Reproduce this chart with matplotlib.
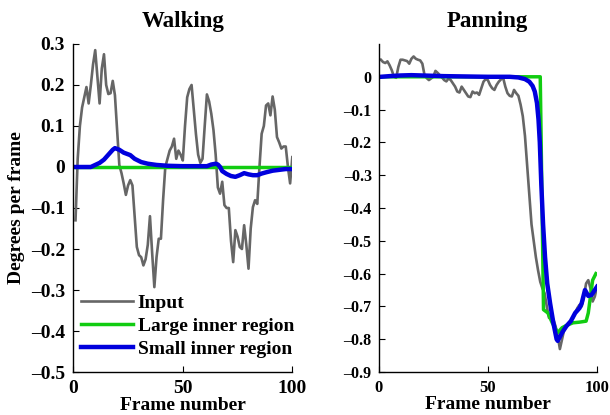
import matplotlib
matplotlib.use("Agg")
import matplotlib.pyplot as plt

# ---------------- Walking data ----------------
walk_in_x = list(range(1, 101))
walk_in_y = [-0.13, 0.02, 0.10, 0.145, 0.17, 0.195, 0.155, 0.20, 0.25, 0.285,
             0.22, 0.155, 0.24, 0.275, 0.20, 0.178, 0.18, 0.21, 0.175, 0.09,
             0.005, -0.015, -0.04, -0.068, -0.045, -0.032, -0.045, -0.12, -0.195, -0.215,
             -0.22, -0.24, -0.225, -0.19, -0.12, -0.21, -0.293, -0.22, -0.175, -0.175,
             -0.08, 0.0, 0.02, 0.04, 0.05, 0.069, 0.02, 0.04, 0.03, 0.016,
             0.10, 0.17, 0.19, 0.20, 0.14, 0.08, 0.03, 0.01, 0.02, 0.10,
             0.177, 0.16, 0.13, 0.09, 0.03, -0.05, -0.065, -0.036, -0.093, -0.10,
             -0.10, -0.18, -0.232, -0.154, -0.17, -0.195, -0.20, -0.142, -0.19, -0.248,
             -0.15, -0.098, -0.081, -0.09, 0.0, 0.081, 0.10, 0.15, 0.155, 0.126,
             0.172, 0.14, 0.073, 0.06, 0.045, 0.05, 0.05, 0.0, -0.04, 0.024]

walk_large_x = [1, 100]
walk_large_y = [0.0, 0.0]

walk_small_x = [1, 8, 10, 12, 14, 16, 18, 19, 21, 23, 26, 28, 31, 34, 38, 43, 50,
                58, 61, 63, 65, 66, 67, 68, 70, 72, 74, 76, 78, 80, 82, 84, 86,
                88, 91, 94, 97, 100]
walk_small_y = [0.0, 0.0, 0.005, 0.01, 0.018, 0.03, 0.042, 0.046, 0.042, 0.035,
                0.029, 0.02, 0.012, 0.008, 0.005, 0.003, 0.002, 0.002, 0.002, 0.006,
                0.008, 0.006, 0.0, -0.01, -0.017, -0.022, -0.024, -0.02, -0.015, -0.018,
                -0.02, -0.02, -0.016, -0.013, -0.009, -0.007, -0.005, -0.005]

# ---------------- Panning data ----------------
pan_in_x = list(range(1, 101))
pan_in_y = [0.052, 0.045, 0.042, 0.047, 0.035, 0.02, 0.0, -0.003, 0.03, 0.052,
            0.052, 0.05, 0.048, 0.04, 0.055, 0.062, 0.055, 0.052, 0.05, 0.04,
            0.005, -0.004, -0.01, -0.005, 0.0, 0.018, 0.012, 0.005, -0.002, -0.01,
            -0.014, -0.005, -0.01, -0.02, -0.03, -0.045, -0.048, -0.03, -0.04, -0.05,
            -0.06, -0.062, -0.045, -0.05, -0.048, -0.055, -0.035, -0.015, -0.007, -0.01,
            -0.025, -0.035, -0.04, -0.025, -0.015, -0.008, -0.003, -0.03, -0.05, -0.058,
            -0.06, -0.04, -0.05, -0.058, -0.085, -0.12, -0.18, -0.27, -0.36, -0.45,
            -0.50, -0.55, -0.59, -0.625, -0.645, -0.66, -0.70, -0.735, -0.735, -0.74,
            -0.76, -0.79, -0.83, -0.80, -0.77, -0.76, -0.755, -0.745, -0.735, -0.72,
            -0.705, -0.695, -0.70, -0.67, -0.63, -0.62, -0.645, -0.685, -0.67, -0.64]

pan_large_x = [1, 74, 75.5, 77.5, 79.5, 82, 84, 86, 89, 92, 95, 96, 98, 99.5]
pan_large_y = [0.0, 0.0, -0.71, -0.72, -0.75, -0.78, -0.765, -0.758, -0.75, -0.748,
               -0.745, -0.72, -0.62, -0.6]

pan_small_x = [1, 5, 10, 15, 20, 30, 40, 50, 60, 64, 67, 69, 70.5, 71.5, 72.5, 73.2,
               73.8, 74.5, 75.3, 76.2, 77.2, 78.5, 80, 81.5, 82, 84, 86, 88, 90, 92,
               93, 94.5, 96, 97.5, 99, 100]
pan_small_y = [0.0, 0.002, 0.004, 0.005, 0.004, 0.002, 0.001, 0.0, 0.0, -0.002,
               -0.007, -0.015, -0.028, -0.045, -0.08, -0.13, -0.2, -0.33, -0.45, -0.55,
               -0.63, -0.69, -0.75, -0.80, -0.805, -0.78, -0.76, -0.745, -0.72, -0.705,
               -0.69, -0.65, -0.668, -0.665, -0.65, -0.64]

titles = ["Walking", "Panning"]
labels = ["Input", "Large inner region", "Small inner region"]
walk_yticks = [0.3, 0.2, 0.1, 0, -0.1, -0.2, -0.3, -0.4, -0.5]
pan_yticks = [0, -0.1, -0.2, -0.3, -0.4, -0.5, -0.6, -0.7, -0.8, -0.9]
xticks = [0, 50, 100]

GREY = "#666666"
GREEN = "#11cc11"
BLUE = "#0000dd"

plt.rcParams["font.family"] = ["Liberation Serif", "DejaVu Serif"]
plt.rcParams["font.weight"] = "bold"
plt.rcParams["axes.unicode_minus"] = True

fig = plt.figure(figsize=(6.1, 4.15), dpi=100)
ax1 = fig.add_axes([0.1202, 0.1036, 0.3590, 0.7904])
ax2 = fig.add_axes([0.6208, 0.1036, 0.3579, 0.7904])


def fmt(v):
    s = ("%g" % v)
    if s.startswith("-"):
        s = "\u2013" + s[1:]
    return s


for ax in (ax1, ax2):
    for side in ("top", "right"):
        ax.spines[side].set_visible(False)
    for side in ("left", "bottom"):
        ax.spines[side].set_linewidth(1.0)
    ax.tick_params(direction="in", length=4, width=0.8)

# Walking
l1, = ax1.plot(walk_in_x, walk_in_y, color=GREY, lw=1.9, label=labels[0])
l2, = ax1.plot(walk_large_x, walk_large_y, color=GREEN, lw=2.5, label=labels[1])
l3, = ax1.plot(walk_small_x, walk_small_y, color=BLUE, lw=3.2, label=labels[2])
ax1.set_xlim(0, 100)
ax1.set_ylim(-0.5, 0.3)
ax1.set_xticks(xticks)
ax1.set_xticklabels([str(t) for t in xticks], fontsize=14, fontweight="bold")
ax1.set_yticks(walk_yticks)
ax1.set_yticklabels([fmt(t) for t in walk_yticks], fontsize=14, fontweight="bold")
ax1.set_title(titles[0], fontsize=16.5, fontweight="bold", pad=12)
ax1.set_xlabel("Frame number", fontsize=14, fontweight="bold", labelpad=0)
ax1.set_ylabel("Degrees per frame", fontsize=14, fontweight="bold", labelpad=4)
ax1.tick_params(axis="x", pad=6)
ax1.tick_params(axis="y", pad=6)
leg = ax1.legend(handles=[l1, l2, l3], loc="lower left", frameon=False,
                 prop={"size": 14, "weight": "bold"}, handlelength=2.7,
                 handletextpad=0.22, labelspacing=0.27,
                 bbox_to_anchor=(-0.045, -0.01))

# Panning
ax2.plot(pan_in_x, pan_in_y, color=GREY, lw=1.9)
ax2.plot(pan_large_x, pan_large_y, color=GREEN, lw=2.5)
ax2.plot(pan_small_x, pan_small_y, color=BLUE, lw=3.2)
ax2.set_xlim(0, 100)
ax2.set_ylim(-0.9, 0.1)
ax2.set_xticks(xticks)
ax2.set_xticklabels([str(t) for t in xticks], fontsize=12, fontweight="bold")
ax2.set_yticks(pan_yticks)
ax2.set_yticklabels([fmt(t) for t in pan_yticks], fontsize=11.5, fontweight="bold")
ax2.set_title(titles[1], fontsize=16.5, fontweight="bold", pad=12)
ax2.set_xlabel("Frame number", fontsize=14, fontweight="bold", labelpad=0)
ax2.tick_params(axis="x", pad=6)
ax2.tick_params(axis="y", pad=5)

fig.savefig("out.png", dpi=100)
